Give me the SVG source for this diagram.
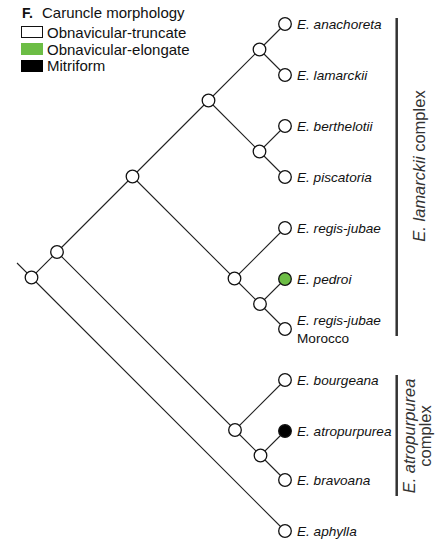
<svg xmlns="http://www.w3.org/2000/svg" width="447" height="542" viewBox="0 0 447 542">
<style>
.e{stroke:#222;stroke-width:1.1;fill:none}
.n{stroke:#111;stroke-width:1.3;fill:#fff}
.g{fill:#6cbd45}
.k{fill:#000}
.lab{font-family:"Liberation Sans",Arial,sans-serif;font-size:13.6px;fill:#111}
.it{font-style:italic}
.leg{font-family:"Liberation Sans",Arial,sans-serif;font-size:15px;fill:#111}
.rot{font-family:"Liberation Sans",Arial,sans-serif;font-size:16.5px;fill:#333;text-anchor:middle}
.bar{stroke:#333;stroke-width:2.5}
</style>
<rect width="447" height="542" fill="#fff"/>
<g id="legend">
<text x="22" y="18" class="leg" style="font-size:14px;font-weight:bold">F.</text>
<text x="42" y="18" class="leg">Caruncle morphology</text>
<rect x="21.5" y="26.5" width="21" height="11" fill="#fff" stroke="#111" stroke-width="1"/>
<rect x="21" y="43" width="22" height="12" fill="#6cbd45"/>
<rect x="21" y="60" width="22" height="12" fill="#000"/>
<text x="47" y="37.5" class="leg">Obnavicular-truncate</text>
<text x="47" y="54.5" class="leg">Obnavicular-elongate</text>
<text x="47" y="71" class="leg">Mitriform</text>
</g>
<g id="connectors">
<path class="e" d="M17 263L31.5 277.5L57 252L132.5 176.5L208.5 100.5L259.5 49.5L285 24M259.5 49.5L285 75M208.5 100.5L259.5 151.5L285 126M259.5 151.5L285 177M132.5 176.5L234.5 278.5L285 228M234.5 278.5L260 304L285 279M260 304L285 329M57 252L235 430L285 380M235 430L260.5 455.5L285 431M260.5 455.5L285 480M31.5 277.5L285 531"/>
</g>
<g id="root"><circle class="n" cx="31.5" cy="277.5" r="6.3"/></g>
<g id="n1"><circle class="n" cx="57" cy="252" r="6.3"/></g>
<g id="n2"><circle class="n" cx="132.5" cy="176.5" r="6.3"/></g>
<g id="n3"><circle class="n" cx="208.5" cy="100.5" r="6.3"/></g>
<g id="n4"><circle class="n" cx="259.5" cy="49.5" r="6.3"/></g>
<g id="n5"><circle class="n" cx="259.5" cy="151.5" r="6.3"/></g>
<g id="n6"><circle class="n" cx="234.5" cy="278.5" r="6.3"/></g>
<g id="n7"><circle class="n" cx="260" cy="304" r="6.3"/></g>
<g id="n8"><circle class="n" cx="235" cy="430" r="6.3"/></g>
<g id="n9"><circle class="n" cx="260.5" cy="455.5" r="6.3"/></g>
<g id="anachoreta"><circle class="n" cx="285" cy="24" r="6.3"/><text x="297" y="28.5" class="lab it">E. anachoreta</text></g>
<g id="lamarckii"><circle class="n" cx="285" cy="75" r="6.3"/><text x="297" y="79.5" class="lab it">E. lamarckii</text></g>
<g id="berthelotii"><circle class="n" cx="285" cy="126" r="6.3"/><text x="297" y="130.5" class="lab it">E. berthelotii</text></g>
<g id="piscatoria"><circle class="n" cx="285" cy="177" r="6.3"/><text x="297" y="181.5" class="lab it">E. piscatoria</text></g>
<g id="regis-jubae"><circle class="n" cx="285" cy="228" r="6.3"/><text x="297" y="232.5" class="lab it">E. regis-jubae</text></g>
<g id="pedroi"><circle class="n g" cx="285" cy="279" r="6.3"/><text x="297" y="283.5" class="lab it">E. pedroi</text></g>
<g id="regis-jubae-morocco"><circle class="n" cx="285" cy="329" r="6.3"/><text x="297" y="325" class="lab it">E. regis-jubae</text><text x="297" y="342.5" class="lab">Morocco</text></g>
<g id="bourgeana"><circle class="n" cx="285" cy="380" r="6.3"/><text x="297" y="384.5" class="lab it">E. bourgeana</text></g>
<g id="atropurpurea"><circle class="n k" cx="285" cy="431" r="6.3"/><text x="297" y="435.5" class="lab it">E. atropurpurea</text></g>
<g id="bravoana"><circle class="n" cx="285" cy="480" r="6.3"/><text x="297" y="484.5" class="lab it">E. bravoana</text></g>
<g id="aphylla"><circle class="n" cx="285" cy="531" r="6.3"/><text x="297" y="535.5" class="lab it">E. aphylla</text></g>
<g id="lamarckii-complex">
<line class="bar" x1="396.7" y1="18" x2="396.7" y2="336"/>
<text class="rot" transform="translate(425 166) rotate(-90)"><tspan font-style="italic">E. lamarckii</tspan> complex</text>
</g>
<g id="atropurpurea-complex">
<line class="bar" x1="396.7" y1="375" x2="396.7" y2="496"/>
<text class="rot" font-style="italic" transform="translate(415 436) rotate(-90)">E. atropurpurea</text>
<text class="rot" transform="translate(431 436) rotate(-90)">complex</text>
</g>
</svg>
